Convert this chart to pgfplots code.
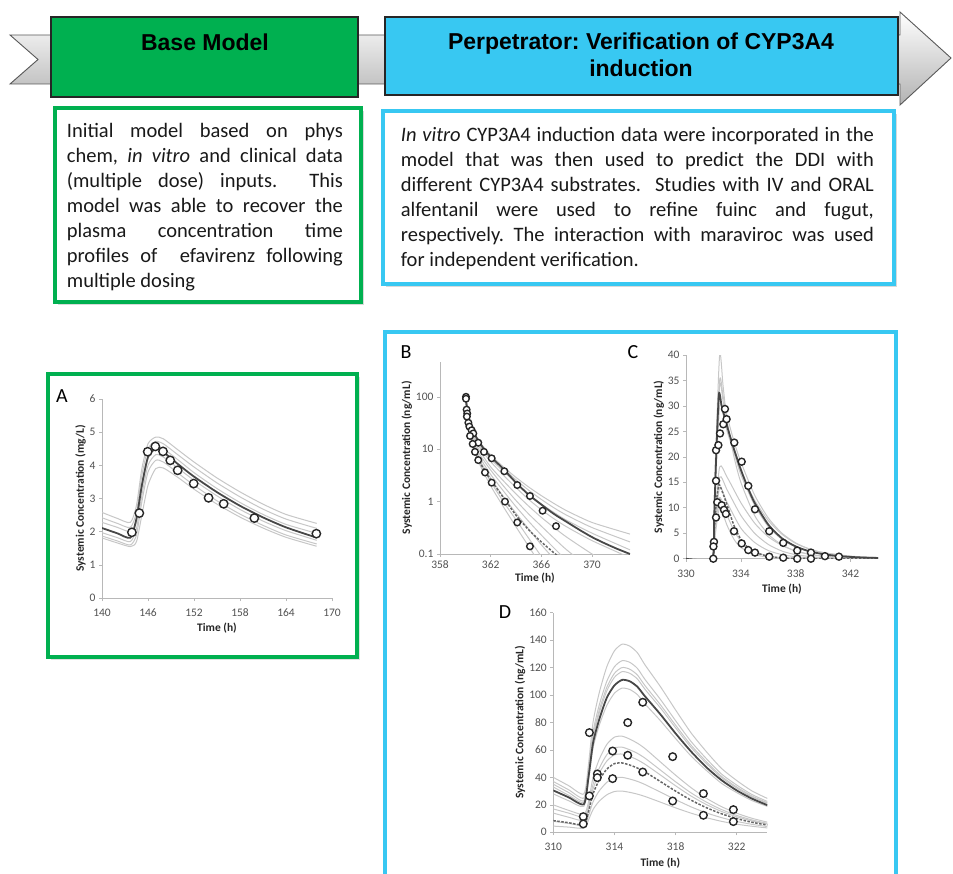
\documentclass[border=0pt]{standalone}
\usepackage{fontspec}
\setmainfont{Carlito}
\newfontfamily\hdrfont{Liberation Sans}
\usepackage{pgfplots}
\pgfplotsset{compat=1.18}
\usepackage{pgfplotstable}
\definecolor{mygreen}{RGB}{0,176,80}
\definecolor{myblue}{RGB}{56,200,242}
\frenchspacing

\pgfplotsset{
 excel/.style={scale only axis, axis lines=left,
   axis line style={-, draw=black!28, line width=0.8pt},
   tick align=outside, major tick length=3pt, minor tick length=0pt,
   tick style={draw=black!28, line width=0.6pt},
   tick label style={font=\fontsize{11.5}{13}\selectfont, text=black!68},
   xticklabel style={text height=8pt, text depth=0pt},
   /pgf/number format/assume math mode=true,
   label style={font=\bfseries\fontsize{11.5}{13}\selectfont, text=black!85},
   ylabel style={yshift=-3pt},
   xlabel style={yshift=2pt},
   xlabel={Time (h)}, clip=true},
 lowticks/.style={xticklabel style={yshift=-4pt}, xlabel style={yshift=-2pt}},
 sim/.style={draw=black!22, line width=1pt, no marks, smooth, tension=0.4},
 mean/.style={draw=black!72, line width=1.8pt, no marks, smooth, tension=0.4},
 dmean/.style={draw=black!60, line width=1.5pt, dash pattern=on 2.5pt off 1.5pt, no marks, smooth, tension=0.4},
 obs/.style={only marks, mark=*, mark options={fill=white, draw=black!85, line width=1.4pt}},
}

% Panel A: efavirenz
\pgfplotstableread{
t m g1 g2 g3 g4 g5 g6
140 2.11 2.58 2.42 2.28 1.97 1.87 1.81
142 1.95 2.40 2.25 2.13 1.82 1.72 1.66
143.7 1.82 2.28 2.13 2.00 1.70 1.60 1.55
144.5 2.4 2.8 2.6 2.3 2.1 1.9 1.7
145.2 3.4 3.9 3.7 3.3 3.1 2.9 2.5
146 4.25 4.65 4.50 4.20 4.00 3.80 3.40
147 4.50 4.85 4.72 4.55 4.32 4.15 3.90
148 4.40 4.80 4.65 4.50 4.25 4.10 3.92
150 4.02 4.45 4.30 4.15 3.90 3.75 3.62
152 3.66 4.10 3.95 3.78 3.55 3.40 3.28
155 3.19 3.62 3.47 3.30 3.08 2.93 2.83
158 2.78 3.20 3.05 2.88 2.67 2.53 2.44
161 2.43 2.83 2.68 2.52 2.32 2.19 2.11
164 2.13 2.52 2.38 2.22 2.03 1.90 1.83
168 1.82 2.25 2.10 1.95 1.74 1.63 1.56
}\tabA

% Panel B: alfentanil (log)
\pgfplotstableread{
x g1 g2 g3 g4 g5 g6 g7 g8 g9 g10
360.05 90 90 90 90 90 90 90 90 90 90
360.2 36 37 38 39 40 41 42 43 44 45
360.5 14 15 16 18 20 22 24 25 26 27
361 6 6.5 7 8 9 10.5 12 13 14 15
362 2.0 2.4 2.8 3.3 4.0 4.6 5.8 6.5 7.2 7.8
363 0.8 1.0 1.25 1.6 2.0 2.5 3.2 3.8 4.3 4.6
364 0.33 0.45 0.6 0.8 1.05 1.4 1.85 2.3 2.6 2.9
365 0.14 0.2 0.3 0.42 0.58 0.82 1.1 1.4 1.65 1.9
366 0.06 0.09 0.15 0.23 0.34 0.5 0.7 0.9 1.1 1.3
367 0.03 0.04 0.08 0.13 0.2 0.32 0.47 0.62 0.76 0.92
368 0.015 0.02 0.04 0.075 0.12 0.21 0.33 0.44 0.55 0.67
370 0.005 0.006 0.012 0.025 0.05 0.1 0.18 0.25 0.32 0.4
373 0.001 0.001 0.002 0.005 0.014 0.035 0.085 0.12 0.17 0.24
}\tabB

% Panel D: maraviroc
\pgfplotstableread{
x m d u1 u2 u3 u4 u5 l1 l2 l3 l4 l5
310 30.5 8.5 40 37 35 33 28 20 17 14 8 4.5
311 25.5 7 34 31 29 27 23 16 14 11 6.5 3.8
312 20.5 5.5 28 25 23 22 19 13 11 8.5 5 3
312.3 40 15 49.3 45 43.2 42.1 37.8 22 19 17 12 8.9
312.6 65 28 80.1 73.1 70.2 68.4 61.4 40 35 31.6 22.2 16.6
313 82 38 101.4 92.5 88.8 86.6 77.7 53 46.6 42.9 30.1 22.6
313.5 98 46 120.6 110 105.6 103 92.4 64 56.5 51.9 36.4 27.3
314 107 50 132.2 120.6 115.8 112.9 101.3 69.3 61.4 56.4 39.6 29.7
314.5 111 50.5 137 125 120 117 105 70 62 57 40 30
315 110 49 135.6 123.8 118.8 115.8 104 67.9 60.1 55.3 38.8 29.1
315.5 106 46.8 130.8 119.4 114.6 111.7 100.3 64.9 57.5 52.8 37.1 27.8
316 99 44 121.9 111.3 106.8 104.1 93.5 61 54 49.6 34.8 26.1
317 86 37 106.2 96.9 93 90.7 81.4 51.3 45.4 41.8 29.3 22
318 72 30 89.1 81.3 78 76.1 68.3 41.6 36.8 33.9 23.8 17.8
319 59 23.5 72.6 66.3 63.6 62 55.7 32.6 28.8 26.5 18.6 14
320 47.5 18 58.9 53.8 51.6 50.3 45.2 24.9 22.1 20.3 14.2 10.7
321 38 13.5 46.6 42.5 40.8 39.8 35.7 18.7 16.6 15.2 10.7 8
322 30.5 10 37.7 34.4 33 32.2 28.9 13.9 12.3 11.3 7.9 5.9
323 24.5 7.3 30.1 27.5 26.4 25.7 23.1 10.2 9 8.3 5.8 4.4
324 19.8 5.3 24.7 22.5 21.6 21.1 18.9 7.4 6.5 6 4.2 3.2
}\tabD

\begin{document}
\begin{tikzpicture}
\path[use as bounding box] (0,0) rectangle (953pt,-874pt);
\begin{scope}[x=1pt,y=-1pt]
 % arrow
 \shade[top color=white, bottom color=black!30, draw=black!65, line width=0.9pt]
   (10,35) -- (900,35) -- (900,12) -- (951,58) -- (900,105) -- (900,84) -- (10,84) -- (38,59.5) -- cycle;
 % header boxes
 \draw[fill=mygreen, draw=black!85, line width=1.6pt] (51,17) rectangle (358,97);
 \draw[fill=myblue, draw=black!85, line width=1.6pt] (385,17) rectangle (898,95);
 \node[font=\hdrfont\bfseries\fontsize{23}{27}\selectfont, text=black] at (205,42) {Base Model};
 \node[font=\hdrfont\bfseries\fontsize{23}{27}\selectfont, text=black, align=center] at (641,55)
   {Perpetrator: Verification of CYP3A4\\induction};
 % text boxes
 \fill[black!15] (58,111) rectangle (364,305);
 \draw[fill=white, draw=mygreen, line width=4.5pt] (55,108) rectangle (361,302);
 \fill[black!15] (386,114) rectangle (897,287);
 \draw[fill=white, draw=myblue, line width=4.5pt] (383,111) rectangle (894,284);
 \node[anchor=north west, inner sep=0pt, text width=276pt, align=justify,
   font=\fontsize{20.5}{25}\selectfont, text=black!90] at (66.7,123)
  {Initial model based on phys\linebreak
   chem, \textit{in vitro} and clinical data\linebreak
   (multiple dose) inputs.\ \ This\linebreak
   model was able to recover the\linebreak
   plasma concentration time\linebreak
   profiles of\ \ efavirenz following\linebreak
   multiple dosing};
 \node[anchor=north west, inner sep=0pt, text width=473pt, align=justify,
   font=\fontsize{20.5}{25}\selectfont, text=black!90] at (400.7,127.5)
  {\textit{In vitro} CYP3A4 induction data were incorporated in the\linebreak
   model that was then used to predict the DDI with\linebreak
   different CYP3A4 substrates.\ \ Studies with IV and ORAL\linebreak
   alfentanil were used to refine fuinc and fugut,\linebreak
   respectively. The interaction with maraviroc was used\linebreak
   for independent verification.};
 % panel frames
 \fill[black!12] (51,377) rectangle (360,660);
 \draw[fill=white, draw=mygreen, line width=4.5pt] (48,374) rectangle (357,657);
 \draw[draw=myblue, line width=4.5pt] (385,332) rectangle (896,890);
 % panel letters
 \node[font=\fontsize{20}{24}\selectfont] at (62,396) {A};
 \node[font=\fontsize{20}{24}\selectfont] at (406,352) {B};
 \node[font=\fontsize{20}{24}\selectfont] at (633,352) {C};
 \node[font=\fontsize{20}{24}\selectfont] at (505,612) {D};
\end{scope}

% ---------- Panel A ----------
\begin{axis}[excel, lowticks, at={(102pt,-598pt)}, anchor=south west, width=230pt, height=199pt,
  xmin=140, xmax=170, ymin=0, ymax=6,
  xtick={140,146,152,158,164,170}, ytick={0,1,2,3,4,5,6},
  ylabel={Systemic Concentration (mg/L)}]
 \foreach \c in {g1,g2,g3,g4,g5,g6}{\addplot[sim] table[x=t,y=\c]{\tabA};}
 \addplot[mean] table[x=t,y=m]{\tabA};
 \addplot[obs, mark size=4.2pt] coordinates {(143.9,1.98)(144.87,2.56)(145.96,4.41)(146.96,4.57)(147.96,4.42)(148.9,4.15)(149.87,3.85)(151.96,3.45)(153.9,3.02)(155.87,2.84)(159.87,2.41)(167.96,1.94)};
\end{axis}

% ---------- Panel B ----------
\begin{axis}[excel, at={(440pt,-554pt)}, anchor=south west, width=190pt, height=192.4pt,
  ymode=log, xmin=358, xmax=373, ymin=0.1, ymax=470,
  xtick={358,362,366,370}, ytick={0.1,1,10,100}, yticklabels={0.1,1,10,100},
  ylabel={Systemic Concentration (ng/mL)}]
 \foreach \c in {g1,g2,g3,g4,g5,g6,g7,g8,g9,g10}{\addplot[sim] table[x=x,y=\c]{\tabB};}
 \addplot[dmean] coordinates {(360.05,90)(360.2,40)(360.4,20)(360.6,12)(360.8,8.5)(361,6.5)(361.5,4.0)(362,2.6)(363,1.2)(364,0.55)(365,0.29)(366,0.17)(367,0.105)(367.5,0.085)};
 \addplot[mean] coordinates {(360.05,90)(360.2,45)(360.4,30)(360.7,20)(361,15)(361.5,9.8)(362,7.2)(363,4.2)(364,2.3)(365,1.35)(366,0.88)(367,0.58)(368,0.41)(369,0.29)(370,0.21)(371,0.16)(372,0.125)(373,0.1)};
 \addplot[obs, mark size=3.3pt] coordinates {(360.05,100)(360.1,57)(360.15,48)(360.24,32)(360.32,27)(360.5,23)(360.63,20)(361.02,13.3)(361.47,8.9)(362.08,6.7)(363.08,3.8)(364.1,2.07)(365.1,1.28)(366.1,0.67)(367.16,0.34)};
 \addplot[obs, mark size=3.3pt] coordinates {(360.05,92)(360.12,42)(360.37,17.9)(360.58,12.6)(360.76,8.9)(361.02,6.2)(361.55,3.6)(362.08,2.3)(363.13,1.0)(364.1,0.40)(365.1,0.14)};
\end{axis}

% ---------- Panel C ----------
\begin{axis}[excel, lowticks, at={(686pt,-558.7pt)}, anchor=south west, width=192pt, height=203.7pt,
  xmin=330, xmax=344, ymin=0, ymax=40,
  xtick={330,334,338,342}, ytick={0,5,...,40},
  ylabel={Systemic Concentration (ng/mL)}]
 \addplot[sim] coordinates {(330,0)(331.9,0)(332.1,16)(332.45,40)(332.7,34)(333,27)(333.5,20)(334,15)(335,8.5)(336,4.8)(337,2.7)(338,1.5)(339,0.85)(340,0.5)(342,0.15)(344,0.05)};
 \addplot[sim] coordinates {(330,0)(331.9,0)(332.1,14)(332.45,35)(332.7,32)(333,28)(333.5,23)(334,19)(335,12.5)(336,8)(337,5)(338,3.1)(339,1.9)(340,1.2)(342,0.45)(344,0.2)};
 \addplot[sim] coordinates {(330,0)(331.9,0)(332.1,13)(332.45,34)(332.7,31)(333,26.5)(333.5,21)(334,16.5)(335,10.5)(336,6.3)(337,3.8)(338,2.3)(339,1.4)(340,0.85)(342,0.3)(344,0.1)};
 \addplot[sim] coordinates {(330,0)(331.9,0)(332.1,12)(332.45,30)(332.7,28.5)(333,25)(334,17)(335,11.5)(336,7.5)(337,4.8)(338,3.0)(339,1.9)(340,1.2)(342,0.5)(344,0.2)};
 \addplot[sim] coordinates {(330,0)(331.9,0)(332.1,7)(332.45,18)(333,16)(334,11)(335,7)(336,4.3)(337,2.6)(338,1.5)(339,0.9)(340,0.5)(342,0.15)(344,0.05)};
 \addplot[sim] coordinates {(330,0)(331.9,0)(332.1,6)(332.45,16)(333,13.5)(334,8.5)(335,5)(336,2.8)(337,1.5)(338,0.8)(340,0.2)(344,0)};
 \addplot[sim] coordinates {(330,0)(331.9,0)(332.1,5.5)(332.45,14)(333,11)(334,6)(335,3.2)(336,1.6)(337,0.8)(338,0.4)(340,0.1)(344,0)};
 \addplot[sim] coordinates {(330,0)(331.9,0)(332.1,5)(332.45,12)(333,8.5)(333.5,5.5)(334,3.5)(335,1.4)(336,0.55)(337,0.2)(338,0.08)(344,0)};
 \addplot[sim] coordinates {(330,0)(331.9,0)(332.1,4)(332.45,10)(333,6.5)(333.5,3.8)(334,2.2)(335,0.8)(336,0.3)(337,0.1)(344,0)};
 \addplot[dmean] coordinates {(330,0)(331.9,0)(332.05,5)(332.2,11)(332.4,14.5)(332.6,13.5)(333,10.5)(333.5,6.5)(334,3.8)(334.5,2.2)(335,1.3)(336,0.45)(337,0.15)(338,0.05)(344,0)};
 \addplot[mean] coordinates {(330,0)(331.9,0)(332.05,8)(332.2,20)(332.4,32.3)(332.6,30)(333,26)(333.5,21.5)(334,17.5)(334.5,14)(335,11)(336,6.7)(337,4.0)(338,2.4)(339,1.45)(340,0.9)(341,0.55)(342,0.35)(343,0.22)(344,0.15)};
 \addplot[obs, mark size=3.5pt] coordinates {(331.99,0)(332.04,3.3)(332.0,2.4)(332.19,21.3)(332.36,22.3)(332.48,24.6)(332.72,26.4)(332.84,29.4)(332.96,27.4)(333.52,22.8)(334.06,19.05)(334.54,14.3)(335.03,9.7)(336.07,5.4)(337.09,3.1)(338.11,1.6)(339.11,1.2)(340.13,0.5)(341.15,0.4)};
 \addplot[obs, mark size=3.5pt] coordinates {(332.19,15.3)(332.19,8.1)(332.28,11.1)(332.6,10.5)(332.77,9.6)(332.91,8.8)(333.5,5.4)(334.06,3.0)(334.54,1.7)(335.03,1.2)(336.07,0.4)(337.09,0.2)(338.11,0.0)(339.11,0.0)};
\end{axis}

% ---------- Panel D ----------
\begin{axis}[excel, lowticks, at={(553.3pt,-832.3pt)}, anchor=south west, width=214pt, height=219.7pt,
  xmin=310, xmax=324, ymin=0, ymax=160,
  xtick={310,314,318,322}, ytick={0,20,...,160},
  ylabel={Systemic Concentration (ng/mL)}]
 \foreach \c in {u1,u2,u3,u4,u5,l1,l2,l3,l4,l5}{\addplot[sim] table[x=x,y=\c]{\tabD};}
 \addplot[dmean] table[x=x,y=d]{\tabD};
 \addplot[mean] table[x=x,y=m]{\tabD};
 \addplot[obs, mark size=3.8pt] coordinates {(311.96,11.4)(311.96,6.1)(312.36,72.6)(312.36,26.5)(312.88,42.5)(312.88,39.8)(313.88,59.2)(313.88,39.1)(314.87,79.9)(314.87,56.1)(315.85,94.7)(315.85,43.9)(317.81,55.1)(317.81,22.8)(319.82,28.2)(319.82,12.4)(321.78,16.5)(321.78,7.8)};
\end{axis}
\end{tikzpicture}
\end{document}
